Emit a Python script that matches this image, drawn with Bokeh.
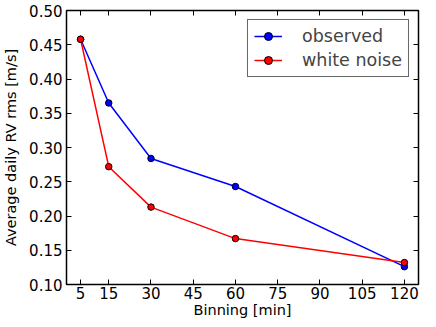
from bokeh.plotting import figure
from bokeh.models import (LinearAxis, Range1d, FixedTicker, Legend, LegendItem,
                          NumeralTickFormatter, CustomJSTickFormatter)
from bokeh.embed import file_html
from bokeh.resources import INLINE

binning = [5, 15, 30, 60, 120]
observed = [0.458, 0.365, 0.284, 0.243, 0.126]
white_noise = [0.458, 0.272, 0.213, 0.167, 0.132]
x_ticks = [5, 15, 30, 45, 60, 75, 90, 105, 120]
y_ticks = [0.10, 0.15, 0.20, 0.25, 0.30, 0.35, 0.40, 0.45, 0.50]

FONT = "DejaVu Sans"

p = figure(width=436, height=327, output_backend="svg", toolbar_location=None,
           x_range=Range1d(0, 125), y_range=Range1d(0.10, 0.50),
           min_border_left=65, min_border_top=10, min_border_right=18, min_border_bottom=43)
p.xgrid.visible = False
p.ygrid.visible = False
p.outline_line_color = "black"
p.outline_line_width = 1.5

for ax in list(p.xaxis) + list(p.yaxis):
    ax.major_tick_in = 5
    ax.major_tick_out = 0
    ax.minor_tick_line_color = None
    ax.axis_line_color = None
    ax.major_tick_line_color = "black"
    ax.major_tick_line_width = 1
    ax.major_label_text_font = FONT
    ax.major_label_text_font_size = "15px"
    ax.major_label_text_color = "black"
    ax.axis_label_text_font = FONT
    ax.axis_label_text_font_size = "14.5px"
    ax.axis_label_text_font_style = "normal"
    ax.axis_label_text_color = "black"
    ax.major_label_standoff = 4

for ax in p.xaxis:
    ax.ticker = FixedTicker(ticks=x_ticks)
    ax.axis_label = "Binning [min]"
    ax.axis_label_standoff = 0
    ax.major_label_standoff = 2
for ax in p.yaxis:
    ax.ticker = FixedTicker(ticks=y_ticks)
    ax.axis_label = "Average daily RV rms [m/s]"
    ax.formatter = NumeralTickFormatter(format="0.00")
    ax.axis_label_standoff = 7

blank = CustomJSTickFormatter(code="return '';")
top = LinearAxis(ticker=FixedTicker(ticks=x_ticks), formatter=blank,
                 major_tick_in=5, major_tick_out=0, minor_tick_line_color=None,
                 axis_line_color=None, major_label_standoff=0)
right = LinearAxis(ticker=FixedTicker(ticks=y_ticks), formatter=blank,
                   major_tick_in=5, major_tick_out=0, minor_tick_line_color=None,
                   axis_line_color=None, major_label_standoff=0)
p.add_layout(top, "above")
p.add_layout(right, "right")

l1 = p.line(binning, observed, line_color="blue", line_width=1.5)
s1 = p.scatter(binning, observed, size=6.5, fill_color="blue", line_color="black", line_width=1)
l2 = p.line(binning, white_noise, line_color="red", line_width=1.5)
s2 = p.scatter(binning, white_noise, size=6.5, fill_color="red", line_color="black", line_width=1)

legend = Legend(items=[LegendItem(label="observed", renderers=[l1, s1]),
                       LegendItem(label="white noise", renderers=[l2, s2])],
                location="top_right", label_text_font=FONT, label_text_font_size="17.5px",
                border_line_color="black", border_line_width=1, border_line_alpha=0.6,
                margin=9, padding=6, spacing=4, label_standoff=20, glyph_width=28)
p.add_layout(legend)

open("out.html", "w").write(file_html(p, INLINE))
